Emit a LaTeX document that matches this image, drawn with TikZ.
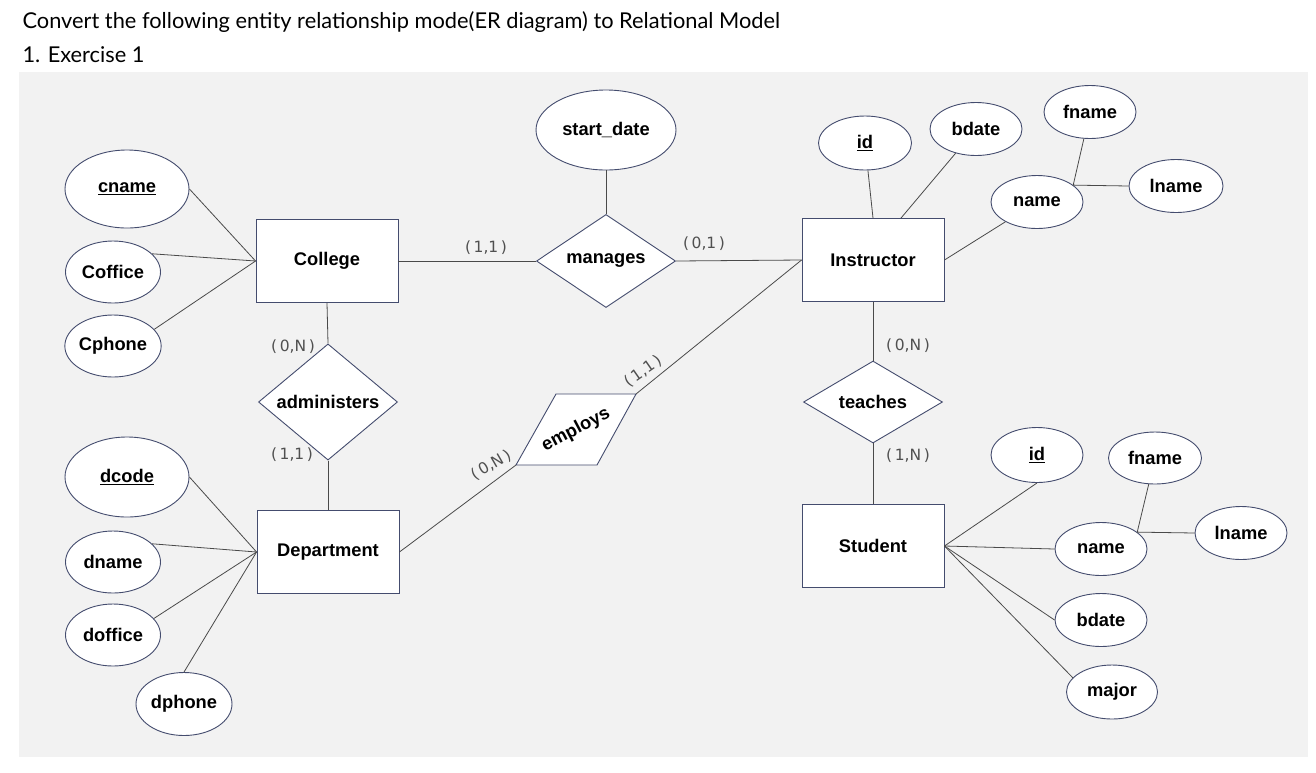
\documentclass[tikz,border=0pt]{standalone}
\usepackage{fontspec}
\setmainfont{Liberation Sans}
\newfontfamily\titlefont{Lato}
\newfontfamily\cardfont{DejaVu Sans}
\usepackage{tikz}
\usetikzlibrary{shapes.geometric,positioning}
\definecolor{paper}{HTML}{F2F2F2}
\definecolor{edgeblue}{HTML}{444C6E}
\definecolor{linegray}{HTML}{4A4A4A}
\definecolor{cardgray}{HTML}{505050}
\newcommand{\crd}[1]{(\thinspace#1\thinspace)}

\begin{document}
\begin{tikzpicture}[
    x=1pt, y=-1pt,
    font=\bfseries\fontsize{18.3}{21}\selectfont,
    entity/.style={
		rectangle,
		draw=edgeblue,
		line width=0.9pt,
		fill=white,
		minimum width=142pt,
		minimum height=83pt,
		inner sep=0pt
	},
    rel/.style={
		diamond,
		draw=edgeblue,
		line width=0.9pt,
		fill=white,
		minimum width=139pt,
		minimum height=82pt,
		inner sep=0pt
	},
    attr/.style={
		ellipse,
		draw=edgeblue,
		line width=0.9pt,
		fill=white,
		inner sep=0pt,
		minimum width=93pt,
		minimum height=54pt
	},
    bigattr/.style={
		attr,
		minimum width=124pt,
		minimum height=80pt
	},
    conn/.style={
		draw=linegray,
		line width=0.8pt
	},
    card/.style={
		font=\cardfont\fontsize{15.5}{18}\selectfont,
		text=cardgray
	}
  ]
  \useasboundingbox (0,0) rectangle (1316,772);
  \fill[paper] (19,72) rectangle (1308,757);

  % heading
  \node[anchor=base west, font=\titlefont\mdseries\fontsize{21.8}{25}\selectfont] (title) at (19,28)
   {Convert the following entity relationship mode(ER diagram) to Relational Model};
  \node[anchor=base west, font=\titlefont\mdseries\fontsize{21.8}{25}\selectfont] (exercise) at (19,62)
   {1. Exercise 1};

  % entities
  \node [entity] (college) at (327,261) {College};
  \node [entity] (dept) at (328,552) {Department};
  \node [entity] (instr) at (873,260) {Instructor};
  \node [entity] (student) at (873,546) {Student};

  % relationships
  \node [rel] (manages) at (606,261) {manages};
  \node [rel] (admin) at (328,402) {administers};
  \node [rel] (teaches) at (873,402) {teaches};
  % employs is a slanted box
  \coordinate (embl) at (516,465);
  \coordinate (embr) at (597,465);
  \coordinate (emtr) at (636,394);
  \coordinate (emtl) at (556,394);
  \filldraw [draw=edgeblue, line width=0.9pt, fill=white] (embl) -- (embr) -- (emtr) -- (emtl) -- cycle;
  \node [rotate=28] (employs) at (576,430) {employs};

  % attributes of College
  \node [bigattr, minimum height=78pt] (cname) at (127,189) {\underline{cname}};
  \node [attr, minimum width=95pt, minimum height=62pt] (coffice) at (113,272) {Coffice};
  \node [attr, minimum width=95pt, minimum height=62pt] (cphone) at (113,346) {Cphone};

  % attributes of Department
  \node [bigattr] (dcode) at (127,477) {\underline{dcode}};
  \node [attr, minimum width=95pt, minimum height=62pt] (dname) at (113,562) {dname};
  \node [attr, minimum width=95pt, minimum height=62pt] (doffice) at (113,635) {doffice};
  \node [attr, minimum width=96pt, minimum height=63pt] (dphone) at (184,704) {dphone};

  % attribute of manages
  \node [bigattr, minimum width=140pt] (startdate) at (606,130) {start\_date};

  % attributes of Instructor
  \node [attr] (iid) at (865,143) {\underline{id}};
  \node [attr, minimum width=92pt, minimum height=53pt] (ibdate) at (976,129) {bdate};
  \node [attr, minimum width=92pt, minimum height=53pt] (iname) at (1037,202) {name};
  \node [attr, minimum width=92pt, minimum height=53pt] (ifname) at (1090,112) {fname};
  \node [attr, minimum width=94pt, minimum height=53pt] (ilname) at (1176,186) {lname};

  % attributes of Student
  \node [attr, minimum width=92pt, minimum height=55pt] (sid) at (1037,455) {\underline{id}};
  \node [attr, minimum width=93pt, minimum height=52pt] (sfname) at (1155,458) {fname};
  \node [attr, minimum width=92pt, minimum height=53pt] (sname) at (1101,549) {name};
  \node [attr, minimum width=92pt, minimum height=53pt] (slname) at (1241,533) {lname};
  \node [attr, minimum width=92pt, minimum height=53pt] (sbdate) at (1101,620) {bdate};
  \node [attr, minimum width=91pt, minimum height=54pt] (smajor) at (1112,692) {major};

  % connectors
  \draw [conn] (cname.east) -- (college.west);
  \draw [conn] (coffice.25) -- (college.west);
  \draw [conn] (cphone.22) -- (college.west);
  \draw [conn] (dcode.east) -- (dept.west);
  \draw [conn] (dname.25) -- (dept.west);
  \draw [conn] (doffice.22) -- (dept.west);
  \draw [conn] (dphone.north) -- (dept.west);

  \draw [conn] (college.east) -- (manages.west);
  \draw [conn] (manages.east) -- (instr.west);
  \draw [conn] (startdate) -- (manages.north);
  \draw [conn] (college.south) -- (admin.north);
  \draw [conn] (admin.south) -- (dept.north);
  \draw [conn] (dept.east) -- (embl);
  \draw [conn] (emtr) -- (instr.west);
  \draw [conn] (instr.south) -- (teaches.north);
  \draw [conn] (teaches.south) -- (student.north);

  \draw [conn] (iid) -- (instr.north);
  \draw [conn] (ibdate) -- ([xshift=28pt]instr.north);
  \draw [conn] (instr.east) -- (iname);
  \draw [conn] (ifname) -- (iname.25) -- (ilname.west);

  \draw [conn] (student.east) -- (sid.south);
  \draw [conn] (student.east) -- (sname.west);
  \draw [conn] (student.east) -- (sbdate.west);
  \draw [conn] (student.east) -- (smajor.160);
  \draw [conn] (sfname) -- (sname.25) -- (slname.west);

  % cardinalities
  \node [card] (cmc) at (486,248) {\crd{1,1}};
  \node [card] (cmi) at (704,244) {\crd{0,1}};
  \node [card] (cac) at (293,347) {\crd{0,N}};
  \node [card] (cad) at (292,455) {\crd{1,1}};
  \node [card, rotate=30] (ced) at (491,465) {\crd{0,N}};
  \node [card, rotate=35] (cei) at (643,371) {\crd{1,1}};
  \node [card] (cti) at (908,346) {\crd{0,N}};
  \node [card] (cts) at (908,456) {\crd{1,N}};

\end{tikzpicture}
\end{document}
